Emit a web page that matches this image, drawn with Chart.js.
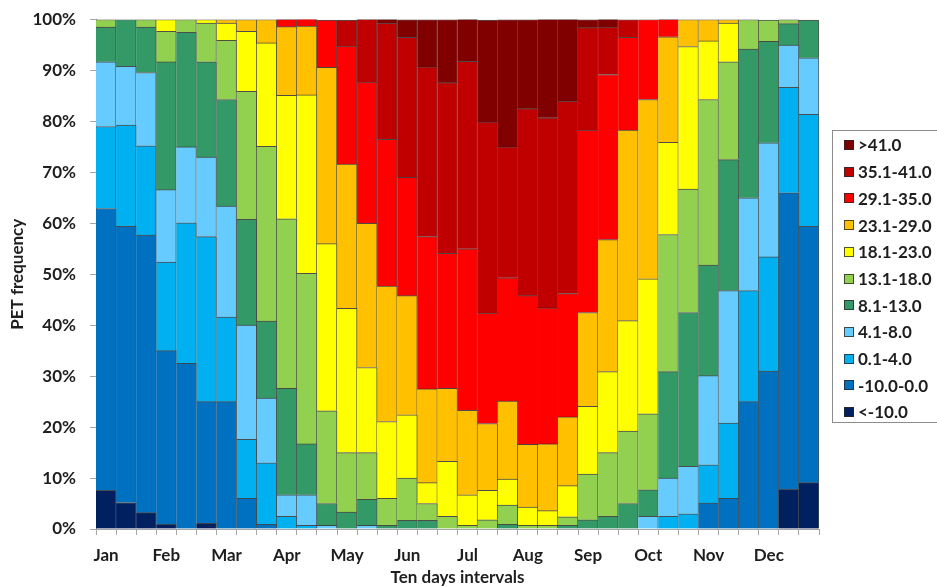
<!DOCTYPE html>
<html><head><meta charset="utf-8">
<script src="https://cdn.jsdelivr.net/npm/chart.js@4/dist/chart.umd.min.js"></script>
<style>html,body{margin:0;padding:0;background:#fff;}</style>
</head><body>
<canvas id="c" width="937" height="587"></canvas>
<script>
const months = ['Jan','Feb','Mar','Apr','May','Jun','Jul','Aug','Sep','Oct','Nov','Dec'];
const decades = ['I','II','III'];
const categories = months.flatMap(m => decades.map(d => m + ' ' + d));
const yTicks = [0,10,20,30,40,50,60,70,80,90,100];

const classLabels = ['<-10.0','-10.0-0.0','0.1-4.0','4.1-8.0','8.1-13.0','13.1-18.0','18.1-23.0','23.1-29.0','29.1-35.0','35.1-41.0','>41.0'];
const classColors = ['#002060','#0070c0','#00b0f0','#66ccff','#339966','#92d050','#ffff00','#ffc000','#ff0000','#c00000','#800000'];

const lt10    = [7.6,5.2,3.2,0.9,0,1.1, 0,0,0,0,0,0, 0,0,0,0,0,0, 0,0,0,0,0,0, 0,0,0,0,0,0, 0,0,0,0,7.8,9.1];
const m10to0  = [55.3,54.2,54.5,34.1,32.5,23.9, 25.0,6.0,0.9,0,0,0, 0,0,0,0,0,0, 0,0,0,0,0,0, 0,0,0,0,0,0, 5.1,6.0,25.0,31.0,58.2,50.3];
const p0to4   = [16.1,19.9,17.5,17.4,27.6,32.4, 16.6,11.6,12.1,2.5,0.7,0, 0,0,0,0,0,0, 0,0,0,0,0,0, 0,0,0,0,2.5,3.0, 7.5,14.8,21.8,22.4,20.7,22.0];
const p4to8   = [12.7,11.5,14.4,14.2,14.9,15.6, 21.8,22.4,12.7,4.2,6.0,0.7, 0,0.7,0,0,0,0, 0,0,0,0,0,0, 0,0,0,2.5,7.5,9.3, 17.5,26.0,18.2,22.4,8.3,11.1];
const p8to13  = [6.8,9.2,8.9,25.1,22.5,18.7, 20.9,20.8,15.1,20.9,10.0,4.3, 3.3,5.1,0.7,1.7,1.7,0, 0,0,0.9,0,0,0.7, 1.8,2.5,5.0,5.2,20.9,30.2, 21.7,25.7,29.2,19.9,4.2,7.4];
const p13to18 = [1.5,0,1.5,6.0,2.5,7.6, 11.6,25.1,34.3,33.3,33.5,18.2, 11.7,9.2,5.3,8.3,3.3,2.5, 0.7,1.8,3.8,0.7,0.7,1.7, 9.0,12.5,14.2,14.9,26.9,24.2, 32.5,19.2,5.8,4.2,0.8,0];
const p18to23 = [0,0,0,2.3,0,0.7, 3.4,11.8,20.3,24.2,35.0,32.8, 28.3,16.7,15.1,12.4,4.1,10.8, 6.0,5.8,5.1,3.6,2.9,6.1, 13.3,15.9,21.7,26.5,18.1,28.0, 11.5,7.6,0,0,0,0];
const p23to29 = [0,0,0,0,0,0, 0.7,2.3,4.6,13.5,13.5,34.6, 28.3,28.3,26.6,23.4,18.4,14.3, 16.6,13.1,15.3,12.3,13.1,13.5, 18.4,25.9,37.4,35.2,20.7,5.3, 4.2,0.7,0,0,0,0];
const p29to35 = [0,0,0,0,0,0, 0,0,0,1.5,1.5,9.3, 23.2,27.7,28.8,23.2,29.9,26.5, 31.7,21.7,24.2,29.2,26.7,24.2, 35.8,32.4,18.2,15.7,3.5,0, 0,0,0,0,0,0];
const p35to41 = [0,0,0,0,0,0, 0,0,0,0,0,0, 5.1,12.4,22.8,27.5,33.3,33.5, 36.8,37.5,25.7,36.7,37.3,37.8, 20.1,9.3,3.5,0,0,0, 0,0,0,0,0,0];
const gt41    = [0,0,0,0,0,0, 0,0,0,0,0,0, 0,0,0.8,3.5,9.3,12.4, 8.3,20.0,25.0,17.5,19.4,16.1, 1.6,1.6,0,0,0,0, 0,0,0,0,0,0];

const seriesValues = [lt10,m10to0,p0to4,p4to8,p8to13,p13to18,p18to23,p23to29,p29to35,p35to41,gt41];

const FONT = 'Lato, "Open Sans", "DejaVu Sans", sans-serif';
const TXT = '#1e1e1e';
const AXIS = '#a6a6a6';

const datasets = seriesValues.map((vals, i) => ({
  label: classLabels[i],
  data: vals,
  backgroundColor: classColors[i],
  borderColor: 'rgba(35,35,35,0.8)',
  borderWidth: {top:1, right:1, left:0, bottom:0},
  borderSkipped: false,
  categoryPercentage: 1.0,
  barPercentage: 1.0
}));

const legendPlugin = {
  id: 'sideLegend',
  afterDraw(chart) {
    const ctx = chart.ctx;
    ctx.save();
    ctx.strokeStyle = '#8c8c8c';
    ctx.lineWidth = 1;
    ctx.strokeRect(832.5, 130.5, 130, 292);
    ctx.font = 'bold 17px ' + FONT;
    ctx.textBaseline = 'middle';
    ctx.textAlign = 'left';
    for (let k = 0; k < classLabels.length; k++) {
      const i = classLabels.length - 1 - k;
      const y = 145 + k * 26.7;
      ctx.fillStyle = classColors[i];
      ctx.fillRect(844, Math.round(y - 5), 10, 10);
      ctx.strokeStyle = 'rgba(40,40,40,0.8)';
      ctx.strokeRect(844.5, Math.round(y - 5) + 0.5, 9, 9);
      ctx.fillStyle = TXT;
      ctx.fillText(classLabels[i], 858, y + 1);
    }
    ctx.restore();
  }
};

new Chart(document.getElementById('c'), {
  type: 'bar',
  data: { labels: categories, datasets },
  plugins: [legendPlugin],
  options: {
    responsive: false,
    animation: false,
    devicePixelRatio: 1,
    layout: { padding: { top: 19.5, right: 118, left: 0, bottom: 0 } },
    plugins: { legend: { display: false }, tooltip: { enabled: false } },
    scales: {
      x: {
        stacked: true,
        afterFit(s) { s.height = 58; },
        grid: { display: true, drawOnChartArea: false, drawTicks: true, tickLength: 6, color: AXIS, offset: true },
        border: { display: true, color: AXIS },
        ticks: {
          autoSkip: false, maxRotation: 0, minRotation: 0, padding: 10,
          color: TXT, font: { family: FONT, size: 17, weight: 'bold' },
          callback: (v, i) => (i % 3 === 0 ? months[i / 3] : '')
        },
        title: { display: true, text: 'Ten days intervals', color: TXT,
          font: { family: FONT, size: 17, weight: 'bold' }, padding: { top: 0, bottom: -1 } }
      },
      y: {
        stacked: true,
        min: 0, max: 100,
        afterFit(s) { s.width = 96; s.paddingTop = 0; s.paddingBottom = 0; },
        afterBuildTicks(s) { s.ticks = yTicks.map(v => ({ value: v })); },
        grid: { display: true, drawOnChartArea: false, drawTicks: true, tickLength: 6, color: AXIS },
        border: { display: true, color: AXIS },
        ticks: {
          padding: 14, color: TXT, font: { family: FONT, size: 17, weight: 'bold' },
          callback: v => v + '%'
        },
        title: { display: true, text: 'PET frequency', color: TXT,
          font: { family: FONT, size: 17, weight: 'bold' }, padding: { top: 7, bottom: 0 } }
      }
    }
  }
});
</script>
</body></html>
